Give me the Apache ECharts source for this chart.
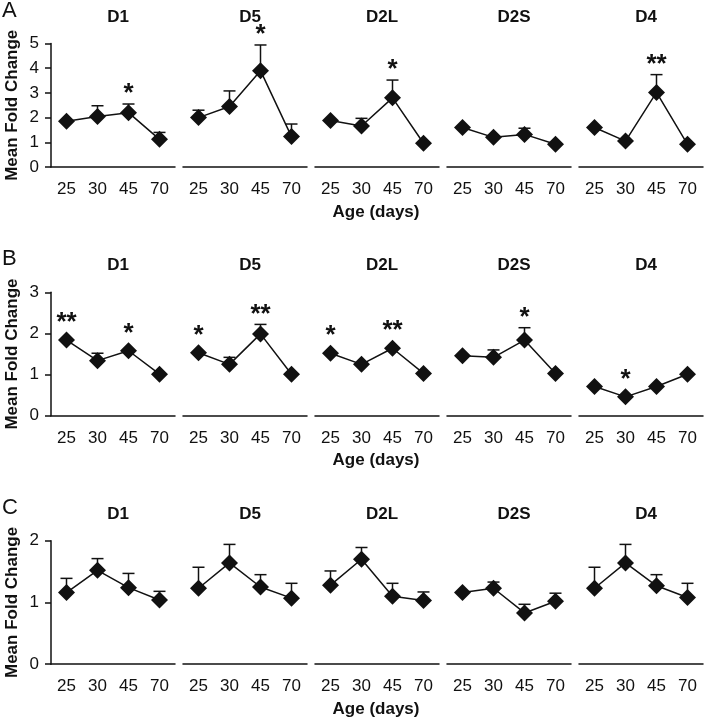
<!DOCTYPE html>
<html>
<head>
<meta charset="utf-8">
<script src="https://cdn.jsdelivr.net/npm/echarts@6/dist/echarts.min.js"></script>
<style>
  html, body {margin: 0; padding: 0; background: #fff;}
  #main {width: 704px; height: 720px;}
</style>
</head>
<body>
<div id="main"></div>
<script>
  // categories
  const ages = ['25', '30', '45', '70'];
  const genes = ['D1', 'D5', 'D2L', 'D2S', 'D4'];
  const panels = ['A', 'B', 'C'];
  const yMax = [5, 3, 2];

  // panel A
  const meanA = [[1.85, 2.04, 2.2, 1.12], [2.0, 2.45, 3.9, 1.23], [1.88, 1.66, 2.8, 0.96], [1.6, 1.2, 1.32, 0.92], [1.6, 1.05, 3.02, 0.92]];
  const errA = [[null, 2.48, 2.55, 1.4], [2.3, 3.08, 4.94, 1.74], [null, 1.97, 3.52, null], [null, null, 1.57, null], [null, null, 3.74, null]];
  const starA = [['', '', '*', ''], ['', '', '*', ''], ['', '', '*', ''], ['', '', '', ''], ['', '', '**', '']];

  // panel B
  const meanB = [[1.84, 1.34, 1.58, 1.01], [1.53, 1.25, 1.99, 1.01], [1.52, 1.25, 1.64, 1.03], [1.46, 1.42, 1.84, 1.03], [0.71, 0.46, 0.71, 1.01]];
  const errB = [[null, 1.52, null, null], [null, 1.42, 2.22, null], [null, null, null, null], [null, 1.6, 2.14, null], [null, null, null, null]];
  const starB = [['**', '', '*', ''], ['*', '', '**', ''], ['*', '', '**', ''], ['', '', '*', ''], ['', '*', '', '']];

  // panel C
  const meanC = [[1.16, 1.52, 1.24, 1.04], [1.23, 1.64, 1.25, 1.07], [1.28, 1.70, 1.10, 1.03], [1.16, 1.23, 0.83, 1.02], [1.23, 1.64, 1.27, 1.08]];
  const errC = [[1.39, 1.71, 1.47, 1.18], [1.57, 1.94, 1.45, 1.31], [1.51, 1.89, 1.31, 1.17], [null, 1.33, 0.97, 1.15], [1.57, 1.94, 1.45, 1.31]];
  const starC = [['', '', '', ''], ['', '', '', ''], ['', '', '', ''], ['', '', '', ''], ['', '', '', '']];

  const means = [meanA, meanB, meanC];
  const errs = [errA, errB, errC];
  const stars = [starA, starB, starC];

  const font = 'Liberation Sans, Arial, Helvetica, sans-serif';
  const ink = '#111';
  const rowTop = [43.5, 292.3, 540.7];
  const rowH = 123.5;
  const colLeft = 51, colStep = 132, colW = 124;

  const grid = [], xAxis = [], yAxis = [], series = [], title = [], graphic = [];

  for (let r = 0; r < 3; r++) {
    graphic.push({
      type: 'text', left: 2, top: rowTop[r] - 44,
      style: {text: panels[r], font: '22px ' + font, fill: ink}
    });
    graphic.push({
      type: 'text', x: 376, y: rowTop[r] + rowH + 45,
      style: {text: 'Age (days)', font: 'bold 17px ' + font, fill: ink, align: 'center', verticalAlign: 'middle'}
    });
    for (let g = 0; g < 5; g++) {
      const k = r * 5 + g;
      const left = colLeft + colStep * g;
      grid.push({left: left, top: rowTop[r], width: colW, height: rowH});
      title.push({
        text: genes[g], left: left + colW / 2, top: rowTop[r] - 40, textAlign: 'center',
        textStyle: {fontFamily: font, fontSize: 17, fontWeight: 'bold', color: ink}
      });
      xAxis.push({
        type: 'category', gridIndex: k, data: ages, boundaryGap: true,
        axisLine: {lineStyle: {color: ink, width: 1.5}},
        axisTick: {alignWithLabel: true, length: 7, lineStyle: {color: ink, width: 1.5}},
        axisLabel: {color: ink, fontFamily: font, fontSize: 17, margin: 14}
      });
      yAxis.push({
        type: 'value', gridIndex: k, min: 0, max: yMax[r], interval: 1,
        show: g === 0,
        name: g === 0 ? 'Mean Fold Change' : '',
        nameLocation: 'middle', nameRotate: 90, nameGap: 30,
        nameTextStyle: {fontFamily: font, fontSize: 17, fontWeight: 'bold', color: ink},
        splitLine: {show: false},
        axisLine: {show: true, lineStyle: {color: ink, width: 1.5}},
        axisTick: {show: true, length: 6, lineStyle: {color: ink, width: 1.5}},
        axisLabel: {color: ink, fontFamily: font, fontSize: 17, margin: 12}
      });
      const m = means[r][g], e = errs[r][g], s = stars[r][g];
      series.push({
        type: 'custom', xAxisIndex: k, yAxisIndex: k, z: 1,
        data: ages.map((a, i) => [i, m[i], e[i] == null ? '-' : e[i]]),
        renderItem: function (params, api) {
          const i = params.dataIndex;
          const p = api.coord([api.value(0), api.value(1)]);
          const children = [];
          let topY = p[1] - 7;
          if (e[i] != null) {
            const t = api.coord([api.value(0), e[i]]);
            topY = t[1];
            children.push({type: 'line', shape: {x1: p[0], y1: p[1], x2: t[0], y2: t[1]}, style: {stroke: ink, lineWidth: 1.5}});
            children.push({type: 'line', shape: {x1: t[0] - 6, y1: t[1], x2: t[0] + 6, y2: t[1]}, style: {stroke: ink, lineWidth: 1.5}});
          }
          if (s[i]) {
            children.push({
              type: 'text', x: p[0], y: topY + 3,
              style: {text: s[i], font: 'bold 26px ' + font, fill: ink, align: 'center', verticalAlign: 'bottom'}
            });
          }
          return {type: 'group', children: children};
        }
      });
      series.push({
        type: 'line', xAxisIndex: k, yAxisIndex: k, z: 3,
        data: m, symbol: 'diamond', symbolSize: 17,
        lineStyle: {color: ink, width: 1.5},
        itemStyle: {color: ink},
        animation: false
      });
    }
  }

  const chart = echarts.init(document.getElementById('main'));
  chart.setOption({
    animation: false,
    backgroundColor: '#fff',
    title: title,
    grid: grid,
    xAxis: xAxis,
    yAxis: yAxis,
    series: series,
    graphic: graphic
  });
</script>
</body>
</html>
